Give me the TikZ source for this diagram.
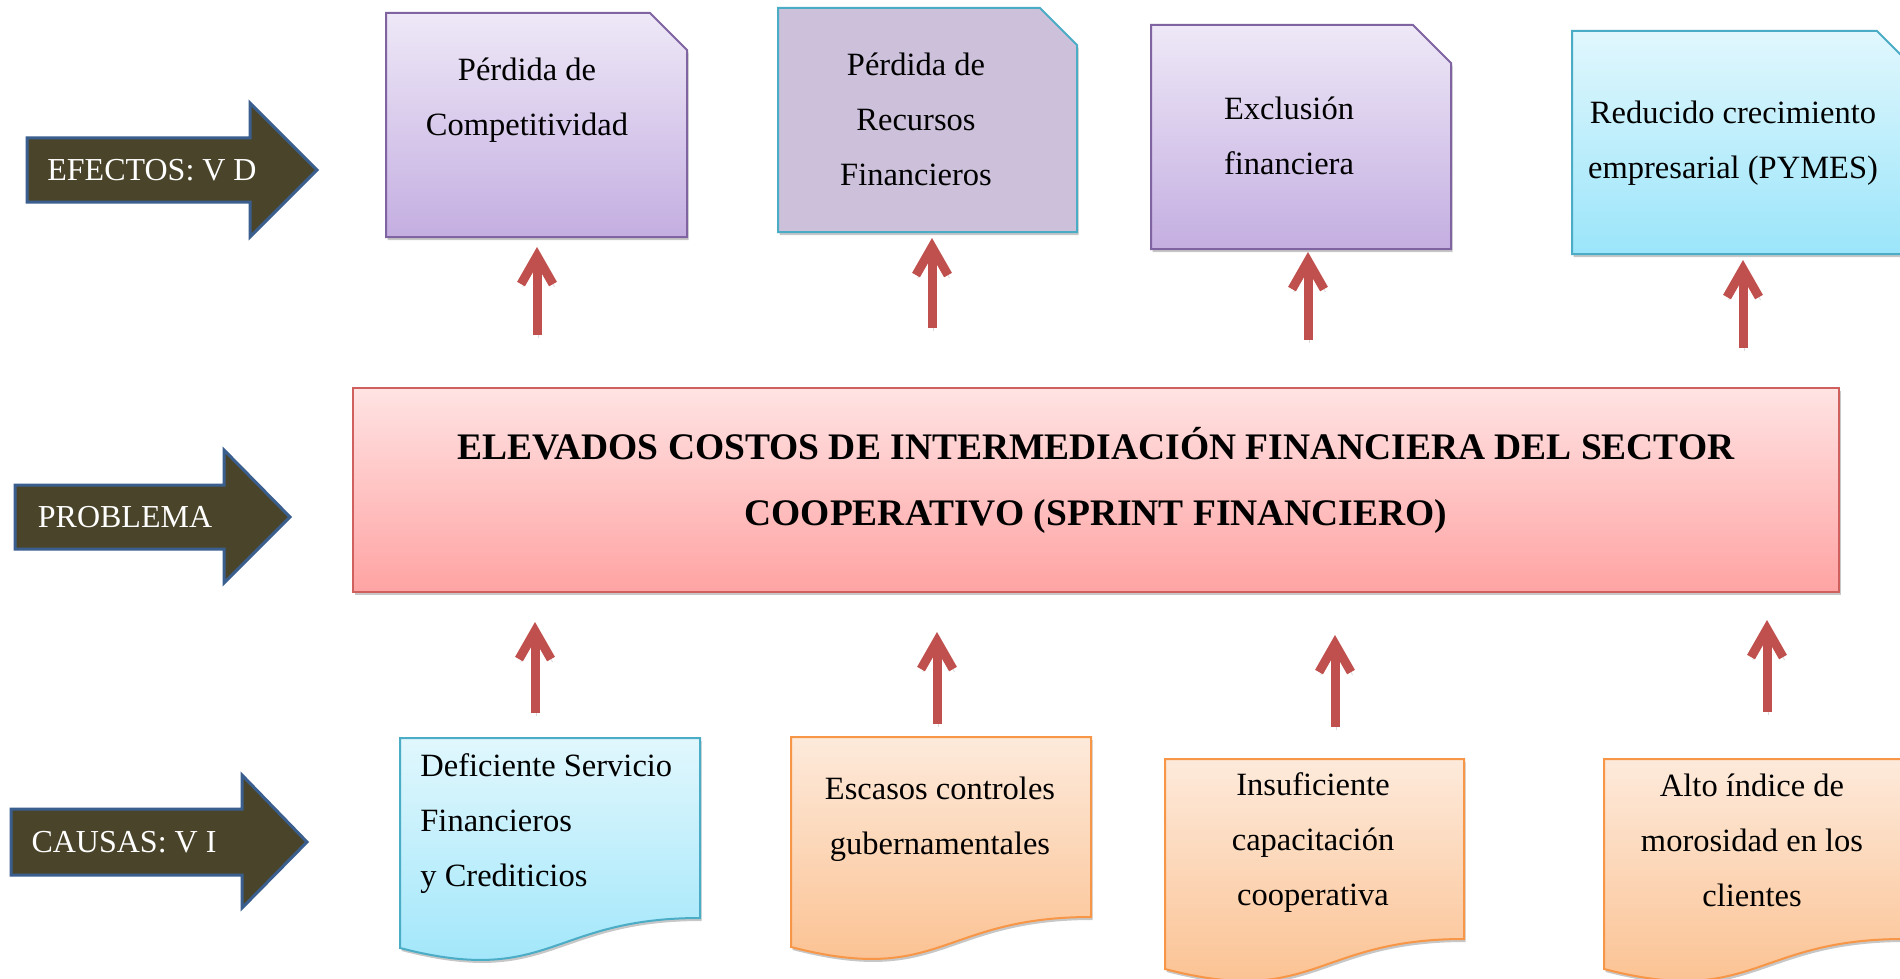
\documentclass[tikz,border=0pt]{standalone}
\usepackage{fontspec}
\setmainfont{Liberation Serif}
\usetikzlibrary{arrows.meta,shadows}
\definecolor{darkolive}{HTML}{4A452A}
\definecolor{arrowblue}{HTML}{3A5F8E}
\definecolor{redarrow}{HTML}{C0504D}
\definecolor{purpleborder}{HTML}{8064A2}
\definecolor{purpletop}{HTML}{EEE8F7}
\definecolor{purplebot}{HTML}{C4AEE1}
\definecolor{lilacflat}{HTML}{CCC0DA}
\definecolor{aquaborder}{HTML}{4BACC6}
\definecolor{aquatop}{HTML}{E1F7FD}
\definecolor{aquabot}{HTML}{9BE5FA}
\definecolor{redborder}{HTML}{D0605D}
\definecolor{redtop}{HTML}{FFE3E3}
\definecolor{redbot}{HTML}{FFA3A3}
\definecolor{orangeborder}{HTML}{F79646}
\definecolor{orangetop}{HTML}{FDEADB}
\definecolor{orangebot}{HTML}{FBBE8B}
\tikzset{
  boxshadow/.style={drop shadow={shadow xshift=0.8pt, shadow yshift=-1.5pt, opacity=0.22, fill=black}},
  purplebox/.style={boxshadow, draw=purpleborder, line width=1pt, top color=purpletop, bottom color=purplebot},
  lilacbox/.style={boxshadow, draw=aquaborder, line width=1pt, fill=lilacflat},
  aquabox/.style={boxshadow, draw=aquaborder, line width=1pt, top color=aquatop, bottom color=aquabot},
  redbox/.style={boxshadow, draw=redborder, line width=1pt, top color=redtop, bottom color=redbot},
  orangebox/.style={boxshadow, draw=orangeborder, line width=1pt, top color=orangetop, bottom color=orangebot},
  labelarrow/.style={fill=darkolive, draw=arrowblue, line width=1.5pt, line join=miter},
  labeltext/.style={text=white, font=\fontsize{16}{19}\selectfont, inner sep=0pt},
  boxtext/.style={font=\fontsize{16.25}{27.5}\selectfont, align=center, inner sep=0pt},
  titletext/.style={font=\fontsize{18.75}{33}\selectfont\bfseries, align=center, inner sep=0pt},
  upar/.style={draw=redarrow, line width=4.5pt, -{Straight Barb[length=14pt,width=16pt]},
    preaction={draw=black, opacity=0.15, transform canvas={shift={(0.8pt,-1.5pt)}}}},
}
\begin{document}
\begin{tikzpicture}[x=0.5pt,y=-0.5pt]
\fill[white] (0,0) rectangle (1900,979);
\useasboundingbox (0,0) rectangle (1900,979);

% label arrows
\path[labelarrow] (27,138) -- (250,138) -- (250,103) -- (317,170) -- (250,237) -- (250,202) -- (27,202) -- cycle;
\node[labeltext] (efectos) at (152,170) {EFECTOS: V D};
\path[labelarrow] (15,485) -- (224,485) -- (224,450) -- (290,517) -- (224,583) -- (224,549) -- (15,549) -- cycle;
\node[labeltext] (problema) at (125,517) {PROBLEMA};
\path[labelarrow] (11,809) -- (242,809) -- (242,775) -- (307,842) -- (242,908) -- (242,875) -- (11,875) -- cycle;
\node[labeltext] (causas) at (124,842) {CAUSAS: V I};

% effect boxes
\path[purplebox] (386,13) -- (650,13) -- (687,50) -- (687,237) -- (386,237) -- cycle;
\node[boxtext] (e1) at (527,100.5) {Pérdida de\\Competitividad};
\path[lilacbox] (778,8) -- (1040,8) -- (1077,45) -- (1077,232) -- (778,232) -- cycle;
\node[boxtext] (e2) at (916,119) {Pérdida de\\Recursos\\Financieros};
\path[purplebox] (1151,25) -- (1413,25) -- (1451,63) -- (1451,249) -- (1151,249) -- cycle;
\node[boxtext] (e3) at (1289,136) {Exclusión\\financiera};
\path[aquabox] (1572,31) -- (1877,31) -- (1914,68) -- (1914,254) -- (1572,254) -- cycle;
\node[boxtext] (e4) at (1733,143.5) {Reducido crecimiento\\empresarial (PYMES)};

% problem
\path[redbox] (353,388) rectangle (1839,592);
\node[titletext] (prob) at (1096,480) {ELEVADOS COSTOS DE INTERMEDIACIÓN FINANCIERA DEL SECTOR\\COOPERATIVO (SPRINT FINANCIERO)};

% cause boxes
\path[aquabox] (400,738) -- (700,738) -- (700,918) .. controls (550,918) and (550,987) .. (400,948) -- cycle;
\node[boxtext, align=left, anchor=west] (c1) at (420,823.5) {Deficiente Servicio\\Financieros\\y Crediticios};
\path[orangebox] (791,737) -- (1091,737) -- (1091,917) .. controls (941,917) and (941,986) .. (791,947) -- cycle;
\node[boxtext] (c2) at (940,819) {Escasos controles\\gubernamentales};
\path[orangebox] (1165,759) -- (1464,759) -- (1464,939) .. controls (1314.5,939) and (1314.5,1008) .. (1165,969) -- cycle;
\node[boxtext] (c3) at (1313,843) {Insuficiente\\capacitación\\cooperativa};
\path[orangebox] (1604,759) -- (1904,759) -- (1904,939) .. controls (1754,939) and (1754,1008) .. (1604,969) -- cycle;
\node[boxtext] (c4) at (1752,840) {Alto índice de\\morosidad en los\\clientes};

% red arrows
\coordinate (a1s) at (537,335); \coordinate (a1e) at (537,247);
\coordinate (a2s) at (932,328); \coordinate (a2e) at (932,238);
\coordinate (a3s) at (1308,340); \coordinate (a3e) at (1308,252);
\coordinate (a4s) at (1743,348); \coordinate (a4e) at (1743,260);
\coordinate (a5s) at (535,713); \coordinate (a5e) at (535,622);
\coordinate (a6s) at (937,724); \coordinate (a6e) at (937,632);
\coordinate (a7s) at (1335,727); \coordinate (a7e) at (1335,635);
\coordinate (a8s) at (1767,712); \coordinate (a8e) at (1767,620);
\foreach \i in {1,...,8} { \draw[upar] (a\i s) -- (a\i e); }
\end{tikzpicture}
\end{document}
